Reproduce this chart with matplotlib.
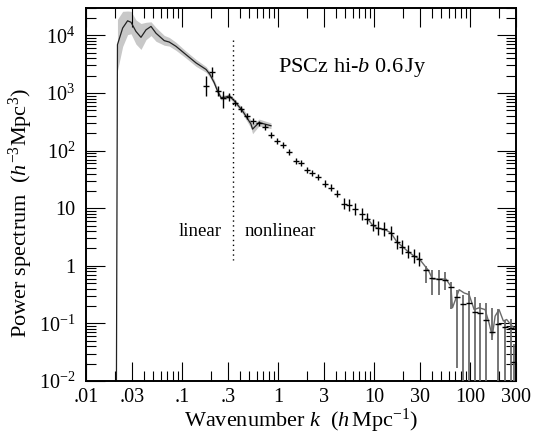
import numpy as np
import matplotlib
matplotlib.use('Agg')
import matplotlib.pyplot as plt
from matplotlib.ticker import FixedLocator, LogLocator, NullFormatter

plt.rcParams['font.family'] = ['Liberation Serif', 'DejaVu Serif']
plt.rcParams['mathtext.fontset'] = 'custom'
plt.rcParams['mathtext.rm'] = 'Liberation Serif'
plt.rcParams['mathtext.it'] = 'Liberation Serif:italic'

# model curve with grey band (linear scales)
model_k = [0.0205, 0.0211, 0.0239, 0.0269, 0.0292, 0.0329, 0.0371, 0.0419, 0.0472, 0.0532,
           0.0649, 0.0731, 0.0860, 0.109, 0.139, 0.177, 0.194, 0.215, 0.233, 0.253,
           0.285, 0.309, 0.348, 0.424, 0.519, 0.54, 0.63, 0.84]
model_P = [1e-3, 6900, 13400, 17900, 16900, 11700, 9250, 12500, 14300, 10900,
           8100, 7660, 6450, 4650, 3330, 2560, 2100, 1510, 1080, 830,
           850, 890, 730, 490, 290, 236, 307, 270]
band_hi = [0.0, 0.44, 0.29, 0.17, 0.19, 0.2, 0.24, 0.13, 0.08, 0.1,
           0.09, 0.08, 0.07, 0.06, 0.06, 0.05, 0.05, 0.05, 0.05, 0.04,
           0.04, 0.04, 0.04, 0.05, 0.07, 0.08, 0.06, 0.05]
band_lo = [0.0, 0.45, 0.32, 0.24, 0.2, 0.22, 0.21, 0.17, 0.16, 0.14,
           0.08, 0.07, 0.07, 0.06, 0.06, 0.05, 0.05, 0.05, 0.05, 0.04,
           0.04, 0.04, 0.04, 0.05, 0.07, 0.08, 0.06, 0.05]

# measured power spectrum points
pts_k = [0.177, 0.204, 0.233, 0.268, 0.309, 0.354, 0.41, 0.47, 0.55, 0.63,
         0.73, 0.84, 0.98, 1.13, 1.29, 1.53, 1.72, 2.01, 2.25, 2.62,
         3.05, 3.55, 4.14, 4.79, 5.52, 6.34, 7.4, 8.5, 9.6, 10.9,
         12.6, 14.9, 17.2, 19.7, 22.5, 25.9, 29.6, 34.9, 40.4, 47.3,
         54.1, 62.8, 72.3, 84.4, 97, 111, 127, 146, 170, 197,
         228, 265, 287]
pts_P = [1320, 2330, 1080, 830, 860, 680, 520, 400, 330, 296,
         260, 187, 149, 125, 96, 67, 61, 46, 40.6, 34.7,
         26.7, 22.7, 17.9, 12.0, 11.3, 9.6, 7.9, 6.6, 5.1, 4.47,
         4.35, 3.75, 2.62, 2.15, 1.77, 1.49, 1.31, 0.853, 0.614, 0.59,
         0.574, 0.43, 0.289, 0.221, 0.227, 0.161, 0.149, 0.114, 0.0708, 0.096,
         0.0877, 0.085, 0.021]
# error bars in dex (9 = reaches below the axis)
err_up = [0.17, 0.08, 0.09, 0.11, 0.07, 0.05, 0.05, 0.05, 0.05, 0.05,
          0.05, 0.05, 0.05, 0.05, 0.05, 0.05, 0.05, 0.05, 0.05, 0.05,
          0.06, 0.06, 0.06, 0.1, 0.1, 0.1, 0.1, 0.1, 0.1, 0.12,
          0.12, 0.12, 0.12, 0.12, 0.12, 0.12, 0.12, 0.06, 0.14, 0.16,
          0.14, 0.08, 0.12, 0.155, 0.2, 0.26, 0.18, 0.3, 0.42, 0.26,
          0.125, 0.15, 0.32]
err_dn = [0.17, 0.09, 0.08, 0.18, 0.07, 0.05, 0.05, 0.05, 0.05, 0.05,
          0.05, 0.05, 0.05, 0.05, 0.05, 0.05, 0.05, 0.05, 0.05, 0.05,
          0.06, 0.06, 0.06, 0.1, 0.1, 0.1, 0.1, 0.1, 0.1, 0.12,
          0.12, 0.12, 0.12, 0.12, 0.12, 0.12, 0.12, 0.23, 0.29, 0.27,
          0.17, 0.39, 1.23, 9, 9, 9, 9, 9, 0.13, 9,
          9, 9, 9]

# grey line through the small-scale points
line_k = [8.5, 9.6, 10.9, 12.6, 14.9, 17.2, 19.7, 22.5, 25.9, 29.6,
          36.8, 40.5, 47.3, 55.9, 63, 65.4, 76.8, 86.6, 97.5, 110,
          124, 143, 157, 170, 182, 200, 222, 240, 277, 300]
line_P = [6.6, 5.1, 4.47, 4.35, 3.75, 2.62, 2.15, 1.77, 1.49, 1.31,
          0.83, 0.59, 0.59, 0.59, 0.44, 0.187, 0.385, 0.338, 0.316, 0.174,
          0.187, 0.174, 0.103, 0.060, 0.134, 0.174, 0.11, 0.117, 0.088, 0.08]

xticks = [0.01, 0.03, 0.1, 0.3, 1, 3, 10, 30, 100, 300]
xticklabels = ['.01', '.03', '.1', '.3', '1', '3', '10', '30', '100', '300']
yticks = [1e-2, 1e-1, 1, 10, 1e2, 1e3, 1e4]
yticklabels = ['$10^{-2}$', '$10^{-1}$', '1', '10', '$10^{2}$', '$10^{3}$', '$10^{4}$']

fig = plt.figure(figsize=(5.33, 4.38), dpi=100)
ax = fig.add_axes([0.162, 0.130, 0.806, 0.852])
ax.set_xscale('log')
ax.set_yscale('log')

mk = np.array(model_k)
mp = np.array(model_P)
ax.fill_between(mk[1:], (mp * 10 ** -np.array(band_lo))[1:], (mp * 10 ** np.array(band_hi))[1:],
                color='#c8c8c8', lw=0, zorder=1)
ax.plot(mk, mp, color='#222222', lw=0.9, zorder=2)

ax.plot(line_k, line_P, color='#6a6a6a', lw=1.0, zorder=2)

pk = np.array(pts_k)
pp = np.array(pts_P)
lo = pp - pp * 10 ** -np.array(err_dn)
hi = pp * 10 ** np.array(err_up) - pp
n1 = 37
ax.errorbar(pk[:n1], pp[:n1], yerr=[lo[:n1], hi[:n1]], fmt='_', color='black',
            ms=5, mew=1.0, elinewidth=1.0, capsize=0, zorder=3)
ax.errorbar(pk[n1:], pp[n1:], yerr=[lo[n1:], hi[n1:]], fmt='_', color='black',
            ecolor='#6a6a6a', ms=5, mew=1.0, elinewidth=1.3, capsize=0, zorder=3)

ax.plot([0.34, 0.34], [8400, 1.27], color='black', lw=1.0, ls=(0, (1, 2.5)), zorder=2)
ax.text(0.257, 3.9, 'linear', ha='right', va='center', fontsize=13.5)
ax.text(0.45, 3.9, 'nonlinear', ha='left', va='center', fontsize=13.5)
ax.text(0.99, 2750, 'PSCz hi-$b$ 0.6$\\,$Jy', ha='left', va='center', fontsize=16)

ax.set_xlim(0.01, 300)
ax.set_ylim(0.01, 3e4)
ax.xaxis.set_major_locator(FixedLocator(xticks))
ax.set_xticklabels(xticklabels)
ax.xaxis.set_minor_locator(LogLocator(base=10, subs=[2, 4, 5, 6, 7, 8, 9], numticks=20))
ax.xaxis.set_minor_formatter(NullFormatter())
ax.yaxis.set_major_locator(FixedLocator(yticks))
ax.set_yticklabels(yticklabels)
ax.yaxis.set_minor_locator(LogLocator(base=10, subs=np.arange(2, 10), numticks=20))
ax.yaxis.set_minor_formatter(NullFormatter())
ax.tick_params(which='both', direction='in', top=True, right=True, labelsize=14.5)
ax.tick_params(which='major', length=14, width=0.8)
ax.tick_params(which='minor', length=7, width=0.8)
ax.tick_params(axis='x', pad=5)
ax.tick_params(axis='y', pad=8)
for s in ax.spines.values():
    s.set_linewidth(1.4)

ax.set_xlabel('Wavenumber $k$  ($h\\,$Mpc$^{-1}$)', fontsize=16)
ax.set_ylabel('Power spectrum  ($h^{-3}$Mpc$^{3}$)', fontsize=16)
ax.xaxis.set_label_coords(0.5, -0.07)
ax.yaxis.set_label_coords(-0.12, 0.45)

fig.savefig('out.png', dpi=100)
